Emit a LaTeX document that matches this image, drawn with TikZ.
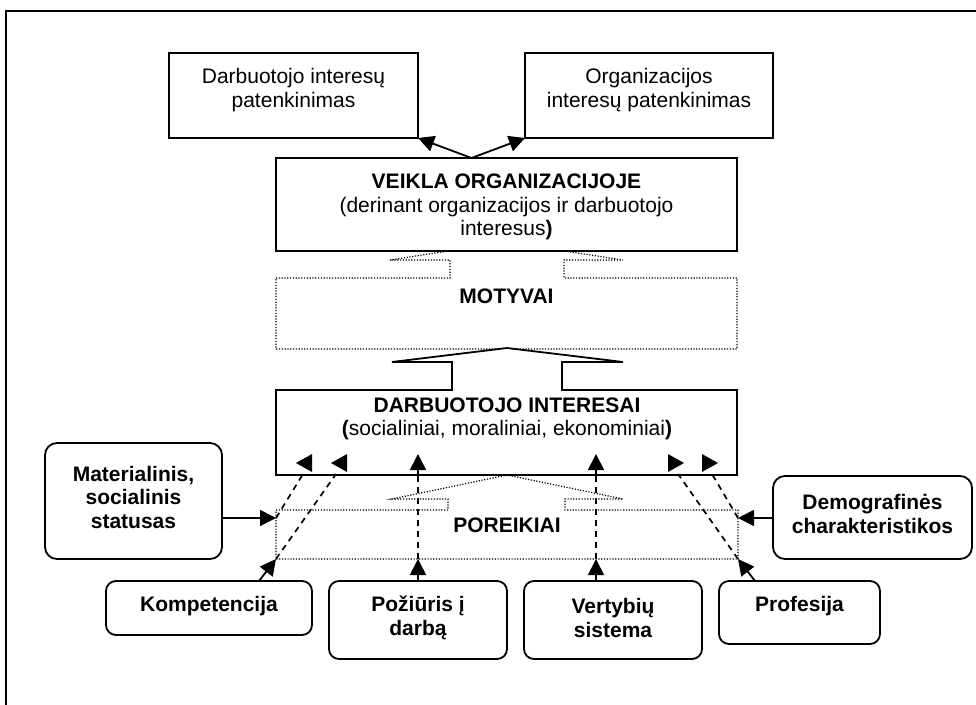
\documentclass[tikz,border=0pt]{standalone}
\usepackage{fontspec}
\setmainfont{Liberation Sans}
\usetikzlibrary{arrows.meta}
\begin{document}
\begin{tikzpicture}[x=1pt,y=-1pt,
  plainbox/.style={draw,line width=1.8pt,inner sep=0pt,outer sep=0pt},
  roundbox/.style={draw,line width=1.8pt,rounded corners=12pt,inner sep=0pt,outer sep=0pt},
  txt/.style={align=center,inner sep=0pt,font=\fontsize{21}{23.5}\selectfont},
  btxt/.style={txt,font=\fontsize{21}{23.5}\selectfont\bfseries},
  dotline/.style={line width=1.2pt,dash pattern=on 1.2pt off 1.6pt},
  solidline/.style={line width=1.8pt},
  solidlink/.style={line width=1.8pt,-{Triangle[length=16pt,width=16pt]}},
  dashlink/.style={line width=1.7pt,dash pattern=on 6pt off 5pt},
  head/.style={fill=black}
]
\useasboundingbox (0,0) rectangle (976,704);

% outer frame
\draw[line width=2.2pt] (6,720) -- (6,11) -- (990,11);

% results at the top
\node[plainbox,minimum width=249pt,minimum height=85pt] (dib) at (293.5,95.5) {};
\node[txt] (dibt) at (293.5,90) {Darbuotojo interesų\\patenkinimas};
\node[plainbox,minimum width=248pt,minimum height=85pt] (oib) at (649,95.5) {};
\node[txt] (oibt) at (649,90) {Organizacijos\\interesų patenkinimas};

% motives: dotted up-arrow callout
\draw[dotline,fill=white] (276,278) -- (450,278) -- (450,260) -- (390,260) -- (506.5,242)
  -- (623,260) -- (564,260) -- (564,278) -- (737,278) -- (737,349) -- (276,349) -- cycle;
\node[btxt] (mot) at (506.5,296) {MOTYVAI};

% activity in the organisation
\node[plainbox,fill=white,minimum width=461pt,minimum height=93pt] (veik) at (506.5,204.5) {};
\node[txt] (veikt) at (506.5,207) {\textbf{VEIKLA ORGANIZACIJOJE}\\(derinant organizacijos ir darbuotojo\\interesus\textbf{)}};

\coordinate (vj) at (471.5,158);
\draw[solidlink] (vj) -- (dib.south east);
\draw[solidlink] (vj) -- (oib.south west);

% needs: dotted up-arrow callout
\draw[dotline,fill=white] (276,510) -- (448,510) -- (448,499) -- (392,499) -- (507,475)
  -- (623,499) -- (565,499) -- (565,510) -- (738,510) -- (738,559) -- (276,559) -- cycle;
\node[btxt] (por) at (507,525) {POREIKIAI};

% employee interests: solid up-arrow callout
\draw[solidline,fill=white] (276,390) -- (452,390) -- (452,362) -- (392,362) -- (507,348)
  -- (623,362) -- (562,362) -- (562,390) -- (737,390) -- (737,475) -- (276,475) -- cycle;
\node[txt] (dint) at (507,419) {\textbf{DARBUOTOJO INTERESAI}\\\textbf{(}socialiniai, moraliniai, ekonominiai\textbf{)}};

% factors
\node[roundbox,minimum width=177pt,minimum height=116pt] (mat) at (133.5,501) {};
\node[btxt] (matt) at (133.5,497) {Materialinis,\\socialinis\\statusas};
\node[roundbox,minimum width=199pt,minimum height=83pt] (dem) at (872.5,517.5) {};
\node[btxt] (demt) at (872.5,514) {Demografinės\\charakteristikos};

\node[roundbox,rounded corners=10pt,minimum width=206pt,minimum height=54pt] (komp) at (209,608) {};
\node[btxt] (kompt) at (209,606) {Kompetencija};
\node[roundbox,rounded corners=10pt,minimum width=178pt,minimum height=78pt] (poz) at (418,620) {};
\node[btxt] (pozt) at (418,618) {Požiūris į\\darbą};
\node[roundbox,rounded corners=10pt,minimum width=178pt,minimum height=78pt] (vert) at (613,620) {};
\node[btxt] (vertt) at (613,618) {Vertybių\\sistema};
\node[roundbox,rounded corners=10pt,minimum width=161pt,minimum height=63pt] (prof) at (799.5,612.5) {};
\node[btxt] (proft) at (799.5,606) {Profesija};

% entry points on the needs callout
\coordinate (mtip) at (276,518);
\coordinate (dtip) at (738,518);
\coordinate (ktip) at (276,559);
\coordinate (ptip) at (738,559);
\coordinate (ztip) at (418,559);
\coordinate (vtip) at (596,559);
\coordinate (ktail) at (259,581);
\coordinate (ptail) at (755,581);
\coordinate (vtail) at (596,581);

\draw[solidlink] (mat.east |- mtip) -- (mtip);
\draw[solidlink] (dem.west |- dtip) -- (dtip);
\draw[solidlink] (ktail) -- (ktip);
\draw[solidlink] (ptail) -- (ptip);
\draw[solidlink] (poz.north) -- (ztip);
\draw[solidlink] (vtail) -- (vtip);

% dashed links up to the interests box
\coordinate (zin) at (418,475);
\coordinate (vin) at (596,475);
\draw[dashlink] (ztip) -- (zin);
\draw[dashlink] (vtip) -- (vin);
\draw[solidlink] (zin) -- (418,454);
\draw[solidlink] (vin) -- (596,454);

\coordinate (lo) at (303,474);
\coordinate (li) at (336,474);
\coordinate (ri) at (678,474);
\coordinate (ro) at (712,474);
\draw[dashlink] (mtip) -- (lo);
\draw[dashlink] (ktip) -- (li);
\draw[dashlink] (ptip) -- (ri);
\draw[dashlink] (dtip) -- (ro);

% arrow heads inside the interests box
\fill[head] (296,463) -- (312,454) -- (312,472) -- cycle;
\fill[head] (331,463) -- (347,454) -- (347,472) -- cycle;
\fill[head] (684,463) -- (668,454) -- (668,472) -- cycle;
\fill[head] (718,463) -- (702,454) -- (702,472) -- cycle;
\end{tikzpicture}
\end{document}
